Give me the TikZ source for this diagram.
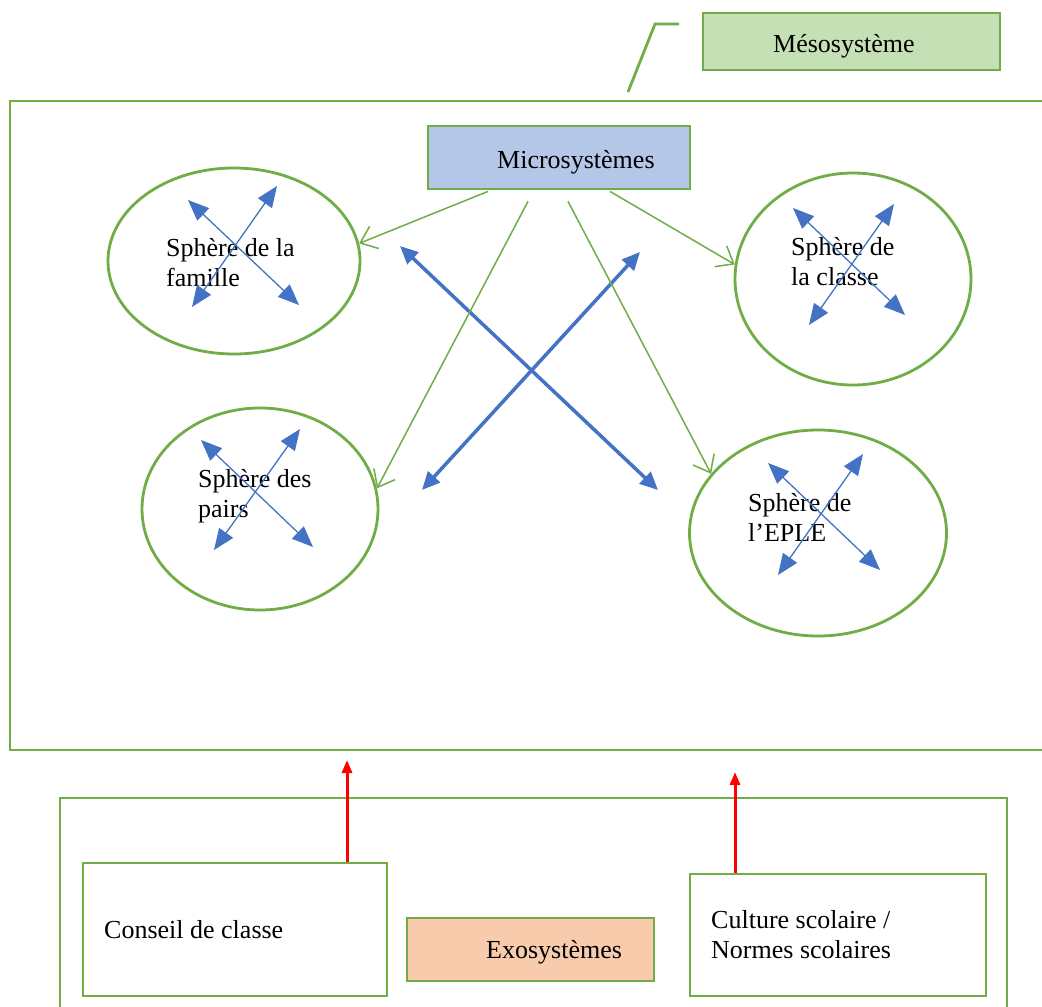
\documentclass[tikz,border=0pt]{standalone}
\usepackage{fontspec}
\setmainfont{Liberation Serif}
\usetikzlibrary{arrows.meta,shapes.geometric,calc}
\definecolor{grn}{HTML}{70AD47}
\definecolor{blu}{HTML}{4472C4}
\definecolor{mesofill}{HTML}{C5E0B4}
\definecolor{microfill}{HTML}{B4C7E7}
\definecolor{exofill}{HTML}{F8CBAD}
\definecolor{redarr}{HTML}{FF0000}
\begin{document}
\begin{tikzpicture}[x=1pt,y=-1pt,
  every node/.style={font=\fontsize{26}{30}\selectfont},
  box/.style={draw=grn,line width=2.8pt,rectangle,inner sep=0pt},
  sph/.style={draw=grn,line width=2.8pt,ellipse,inner sep=0pt},
  lbl/.style={anchor=base west,inner sep=0pt,align=left},
  micarrow/.style={draw=grn,line width=1.5pt,-{Straight Barb[length=15pt,width=24pt,line width=1.5pt]}},
  bigdbl/.style={draw=blu,line width=3.5pt,{Triangle[length=18pt,width=16pt]}-{Triangle[length=18pt,width=16pt]}},
  smalldbl/.style={draw=blu,line width=1.3pt,{Triangle[length=21pt,width=17pt]}-{Triangle[length=21pt,width=17pt]}},
  redup/.style={draw=redarr,line width=3pt,-{Triangle[length=13pt,width=10pt]}},
  callout/.style={draw=grn,line width=2.8pt}
]
\useasboundingbox (0,0) rectangle (1042,1007);
\clip (0,0) rectangle (1042,1007);
\fill[white] (0,0) rectangle (1042,1007);

% frames
\node[box,minimum width=1052pt,minimum height=649pt] (mesoframe) at (536,425.5) {};
\node[box,minimum width=947pt,minimum height=232pt] (exoframe) at (533.5,914) {};

% Mesosysteme label box and callout
\node[box,fill=mesofill,minimum width=297pt,minimum height=57pt] (meso) at (851.5,41.5) {};
\node[lbl] (mesotxt) at (773,52) {Mésosystème};
\coordinate (ca) at (628,92);
\coordinate (cb) at (655,24);
\coordinate (cc) at (679,24);
\draw[callout] (ca) -- (cb) -- (cc);

% Microsystemes box
\node[box,fill=microfill,minimum width=262pt,minimum height=63pt] (micro) at (559,157.5) {};
\node[lbl] (microtxt) at (497,168) {Microsystèmes};

% spheres
\node[sph,minimum width=252pt,minimum height=186pt] (fam) at (234,261) {};
\node[sph,minimum width=236pt,minimum height=212pt] (cla) at (853,279) {};
\node[sph,minimum width=236pt,minimum height=202pt] (pai) at (260,509) {};
\node[sph,minimum width=257pt,minimum height=206pt] (epl) at (818,533) {};

\node[lbl] (famtxt) at (166,286) {Sphère de la\\famille};
\node[lbl] (clatxt) at (791,285) {Sphère de\\la classe};
\node[lbl] (paitxt) at (198,517) {Sphère des\\pairs};
\node[lbl] (epltxt) at (748,541) {Sphère de\\l’EPLE};

% small double arrows inside spheres
\coordinate (fa1) at (188,200); \coordinate (fa2) at (299,305);
\coordinate (fb1) at (277,186); \coordinate (fb2) at (192,307);
\coordinate (ca1) at (793,208); \coordinate (ca2) at (905,315);
\coordinate (cb1) at (894,204); \coordinate (cb2) at (809,325);
\coordinate (pa1) at (201,440); \coordinate (pa2) at (313,547);
\coordinate (pb1) at (300,429); \coordinate (pb2) at (214,550);
\coordinate (ea1) at (768,463); \coordinate (ea2) at (880,570);
\coordinate (eb1) at (863,454); \coordinate (eb2) at (778,575);
\draw[smalldbl] (fa1) -- (fa2);
\draw[smalldbl] (fb1) -- (fb2);
\draw[smalldbl] (ca1) -- (ca2);
\draw[smalldbl] (cb1) -- (cb2);
\draw[smalldbl] (pa1) -- (pa2);
\draw[smalldbl] (pb1) -- (pb2);
\draw[smalldbl] (ea1) -- (ea2);
\draw[smalldbl] (eb1) -- (eb2);

% big crossing double arrows
\coordinate (x1a) at (400,246); \coordinate (x1b) at (658,490);
\coordinate (x2a) at (640,252); \coordinate (x2b) at (422,490);
\draw[bigdbl] (x1a) -- (x1b);
\draw[bigdbl] (x2a) -- (x2b);

% green arrows from Microsystemes
\draw[micarrow] ($(micro.south)+(-71,1)$) -- (fam.8);
\draw[micarrow] ($(micro.south)+(-31,11)$) -- (pai.10);
\draw[micarrow] ($(micro.south)+(9,11)$) -- (epl.151);
\draw[micarrow] ($(micro.south)+(51,1)$) -- (cla.173);

% Exosystemes
\node[box,minimum width=304pt,minimum height=133pt] (conseil) at (235,929.5) {};
\node[lbl] (conseiltxt) at (104,938) {Conseil de classe};
\node[box,fill=exofill,minimum width=247pt,minimum height=63pt] (exo) at (530.5,949.5) {};
\node[lbl] (exotxt) at (486,958) {Exosystèmes};
\node[box,minimum width=296pt,minimum height=122pt] (culture) at (838,935) {};
\node[lbl] (culturetxt) at (711,958) {Culture scolaire /\\Normes scolaires};

\coordinate (r1) at (347,760);
\coordinate (r2) at (735,772);
\draw[redup] ($(conseil.north)+(112,0)$) -- (r1);
\draw[redup] ($(culture.north)+(-103,0)$) -- (r2);
\end{tikzpicture}
\end{document}
